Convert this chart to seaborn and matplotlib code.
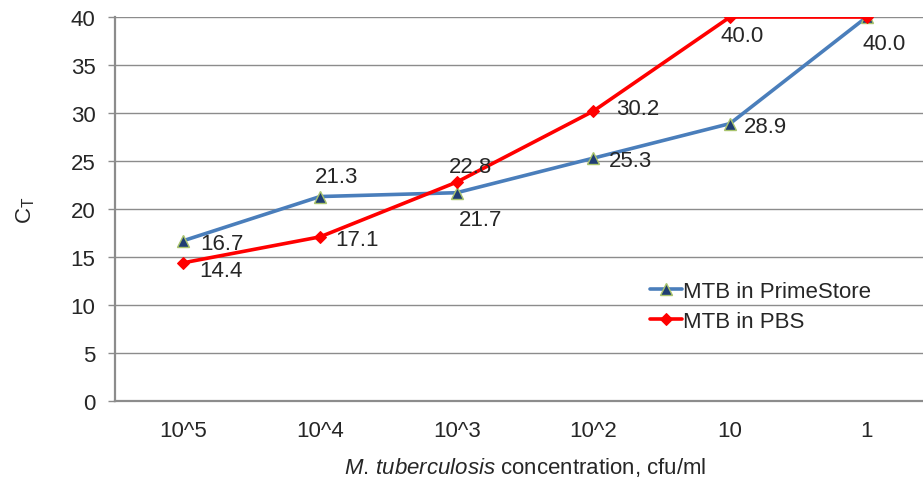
import matplotlib
matplotlib.use("Agg")
import matplotlib.pyplot as plt
import pandas as pd
import seaborn as sns

concentrations = ["10^5", "10^4", "10^3", "10^2", "10", "1"]
primestore_ct = [16.7, 21.3, 21.7, 25.3, 28.9, 40.0]
pbs_ct = [14.4, 17.1, 22.8, 30.2, 40.0, 40.0]

# data label offsets in pixels (dx to text left edge, dy to text centre, up positive)
prime_offsets = [(17, 0), (-5, 23), (2, -24), (16, 0), (14, 0), (-4, -24)]
pbs_offsets = [(16, -5), (15, 0), (-8, 18), (23, 5), (-10, -16), None]

sns.set_theme(style="white")
plt.rcParams["font.family"] = ["Liberation Sans", "DejaVu Sans"]
plt.rcParams["mathtext.fontset"] = "custom"
plt.rcParams["mathtext.rm"] = "Liberation Sans"
plt.rcParams["mathtext.it"] = "Liberation Sans:italic"

FS = 16
TXT = "#262626"
PX = 0.72  # points per pixel at dpi 100

df = pd.DataFrame({
    "conc": concentrations * 2,
    "ct": primestore_ct + pbs_ct,
    "series": ["MTB in PrimeStore"] * 6 + ["MTB in PBS"] * 6,
})

fig = plt.figure(figsize=(9.23, 4.81), dpi=100)
ax = fig.add_axes([0.1246, 0.1642, 0.8884, 0.7983])

grid_col = "#8c8c8c"
for y in range(5, 41, 5):
    ax.axhline(y, color=grid_col, lw=1.0, zorder=0)

blue = "#4a7ebb"
red = "#ff0000"
sns.lineplot(data=df[df["series"] == "MTB in PrimeStore"], x="conc", y="ct",
             ax=ax, color=blue, lw=2.6, marker="^", markersize=8,
             markerfacecolor="#1f3d73", markeredgecolor="#a9c46c", markeredgewidth=1.0,
             label="MTB in PrimeStore", zorder=3)
sns.lineplot(data=df[df["series"] == "MTB in PBS"], x="conc", y="ct",
             ax=ax, color=red, lw=2.6, marker="D", markersize=6.5,
             markerfacecolor=red, markeredgecolor=red,
             label="MTB in PBS", zorder=3)

for c, v, off in zip(concentrations, primestore_ct, prime_offsets):
    ax.annotate(f"{v:.1f}", (c, v), xytext=(off[0] * PX, off[1] * PX),
                textcoords="offset points", ha="left", va="center_baseline",
                fontsize=FS, color=TXT, zorder=5)
for c, v, off in zip(concentrations, pbs_ct, pbs_offsets):
    if off is None:
        continue
    ax.annotate(f"{v:.1f}", (c, v), xytext=(off[0] * PX, off[1] * PX),
                textcoords="offset points", ha="left", va="center_baseline",
                fontsize=FS, color=TXT, zorder=5)

ax.set_xlim(-0.5, 5.5)
ax.set_ylim(0, 40)
ax.set_yticks(range(0, 41, 5))
ax.tick_params(axis="y", which="both", left=True, length=5, width=1.0, color=grid_col,
               pad=9, labelsize=FS, labelcolor=TXT)
ax.tick_params(axis="x", which="both", bottom=False, length=0, pad=14,
               labelsize=FS, labelcolor=TXT)

for side in ["top", "right"]:
    ax.spines[side].set_visible(False)
for side in ["left", "bottom"]:
    ax.spines[side].set_color(grid_col)
    ax.spines[side].set_linewidth(1.6)

ax.set_xlabel(r"$\it{M.\,tuberculosis}$ concentration, cfu/ml", fontsize=FS,
              color=TXT, labelpad=10)
ax.set_ylabel(r"C$_\mathregular{T}$", fontsize=FS, color=TXT, labelpad=24)

leg = ax.legend(loc="center left", bbox_to_anchor=(650 / 923, 1 - 307.5 / 481),
                bbox_transform=fig.transFigure, frameon=False, borderpad=0,
                borderaxespad=0, fontsize=FS, handlelength=1.45,
                handletextpad=0.05, labelspacing=0.4)
for t in leg.get_texts():
    t.set_color(TXT)

fig.savefig("out.png", dpi=100)
